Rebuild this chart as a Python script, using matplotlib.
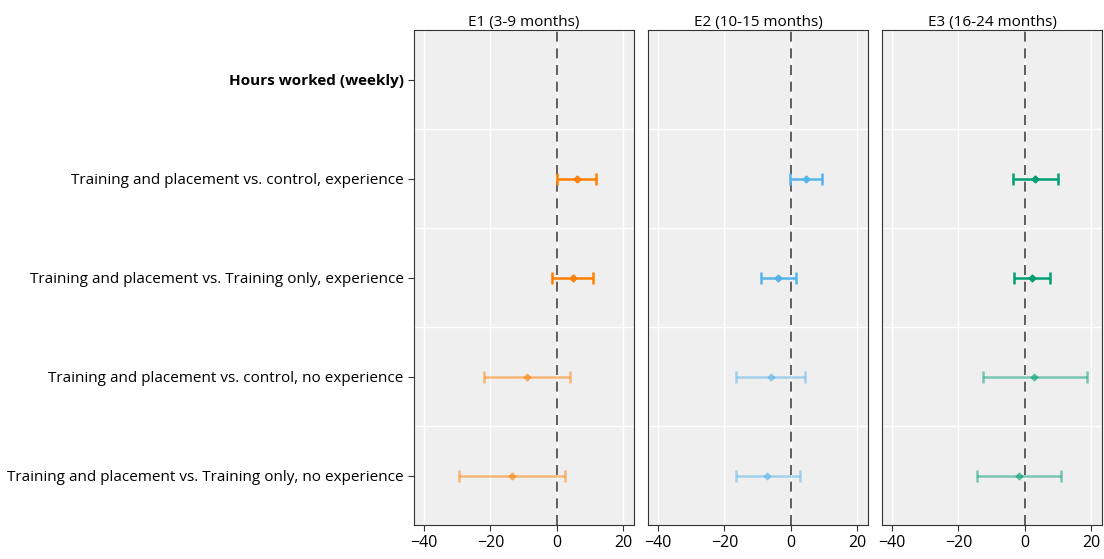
import matplotlib.pyplot as plt
import numpy as np

plt.rcParams["font.family"] = ["Open Sans", "DejaVu Sans"]

panels = ["E1 (3-9 months)", "E2 (10-15 months)", "E3 (16-24 months)"]
header = "Hours worked (weekly)"
rows = [
    "Training and placement vs. control, experience",
    "Training and placement vs. Training only, experience",
    "Training and placement vs. control, no experience",
    "Training and placement vs. Training only, no experience",
]
# point estimates and 95% CI per panel, rows in order above
est = [
    [5.9, 4.7, -9.0, -13.5],
    [4.4, -3.8, -6.1, -7.1],
    [3.1, 2.1, 2.8, -1.8],
]
lo = [
    [0.0, -1.5, -22.0, -29.4],
    [-0.3, -9.1, -16.4, -16.5],
    [-3.6, -3.3, -12.5, -14.3],
]
hi = [
    [11.9, 10.8, 4.0, 2.3],
    [9.3, 1.4, 4.3, 2.6],
    [9.9, 7.5, 18.6, 10.9],
]
colors = ["#FF7F00", "#56B4E9", "#009E73"]
faded = [False, False, True, True]

fig = plt.figure(figsize=(11.04, 5.59), dpi=100)
lefts = [414, 648, 882]
ypos = np.arange(1, 5)

for k, name in enumerate(panels):
    ax = fig.add_axes([lefts[k] / 1104, 34 / 559, 220 / 1104, 495 / 559])
    ax.set_facecolor("#EFEFEF")
    ax.set_xlim(-43, 23.2)
    ax.set_ylim(4.5, -0.5)
    ax.set_xticks([-40, -20, 0, 20])
    ax.set_yticks([0.5, 1.5, 2.5, 3.5], minor=True)
    ax.grid(True, axis="x", color="white", lw=1)
    ax.grid(True, axis="y", which="minor", color="white", lw=1)
    ax.set_axisbelow(True)
    ax.axvline(0, color="#444444", lw=1.2, ls=(0, (6, 4)), zorder=1)
    for i in range(4):
        c = colors[k]
        a = 0.5 if faded[i] else 1.0
        e = est[k][i]
        ax.errorbar(e, ypos[i], xerr=[[e - lo[k][i]], [hi[k][i] - e]],
                    fmt="D", ms=3.5, color=c, alpha=a, lw=1.8, capsize=4,
                    capthick=1.8, zorder=3)
    if k == 0:
        ax.set_yticks(range(5))
        ax.set_yticklabels([header] + rows, fontsize=11)
        ax.get_yticklabels()[0].set_fontweight("bold")
    else:
        ax.set_yticks([])
    ax.tick_params(axis="y", which="minor", length=0)
    ax.tick_params(axis="x", labelsize=11.5, length=4, color="#333333")
    ax.tick_params(axis="y", which="major", length=4, color="#333333")
    for s in ax.spines.values():
        s.set_color("#333333")
    ax.set_title(name, fontsize=11, pad=3)

fig.savefig("out.png", dpi=100)
